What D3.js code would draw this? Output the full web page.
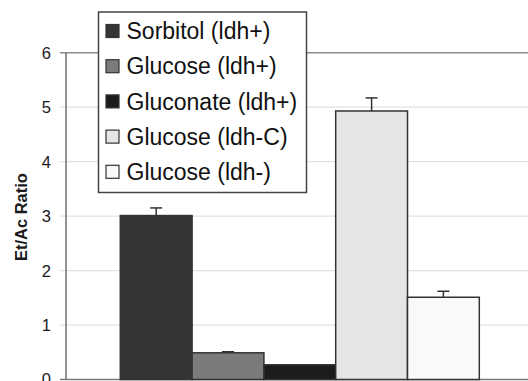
<!DOCTYPE html>
<html>
<head>
<meta charset="utf-8">
<script src="https://cdn.jsdelivr.net/npm/d3@7"></script>
<style>
  html, body { margin: 0; padding: 0; background: #fff; }
  svg { display: block; font-family: "Liberation Sans", Arial, Helvetica, sans-serif; }
</style>
</head>
<body>
<svg id="chart"></svg>
<script>
// data
const series = ["Sorbitol (ldh+)", "Glucose (ldh+)", "Gluconate (ldh+)", "Glucose (ldh-C)", "Glucose (ldh-)"]
const ratios = [3.01, 0.49, 0.27, 4.93, 1.51]
const errors = [0.14, 0.02, 0, 0.24, 0.11]
const fills = ["#353535", "#7b7b7b", "#1c1c1c", "#e5e5e5", "#f9f9f9"]
const yTicks = [0, 1, 2, 3, 4, 5, 6]

const width = 528, height = 381
const plot = { left: 66, top: 52.7, bottom: 379.5, right: 540 }

const svg = d3.select("#chart")
    .attr("width", width)
    .attr("height", height)

const y = d3.scaleLinear().domain([0, 6]).range([plot.bottom, plot.top])
const x = d3.scaleBand().domain(series).range([120.3, 479.3]).paddingInner(0)
const color = d3.scaleOrdinal().domain(series).range(fills)

// gridlines + ticks
svg.append("g")
    .selectAll("line")
    .data(yTicks.filter(d => d > 0 && d < 6))
    .join("line")
    .attr("x1", 60).attr("x2", plot.right)
    .attr("y1", d => y(d)).attr("y2", d => y(d))
    .attr("stroke", "#e2e2e2")
    .attr("stroke-width", 1.2)

// tick labels
svg.append("g")
    .selectAll("text")
    .data(yTicks)
    .join("text")
    .attr("x", 51)
    .attr("y", d => y(d))
    .attr("dy", "0.36em")
    .attr("text-anchor", "end")
    .attr("font-size", 16.5)
    .attr("fill", "#1a1a1a")
    .text(d => d)

// plot border: top line, left axis, baseline
svg.append("line")
    .attr("x1", 60).attr("x2", plot.right)
    .attr("y1", y(6)).attr("y2", y(6))
    .attr("stroke", "#8a8a8a").attr("stroke-width", 1.6)
svg.append("line")
    .attr("x1", plot.left).attr("x2", plot.left)
    .attr("y1", y(6)).attr("y2", plot.bottom)
    .attr("stroke", "#7a7a7a").attr("stroke-width", 1.6)
svg.append("line")
    .attr("x1", 60).attr("x2", plot.right)
    .attr("y1", plot.bottom).attr("y2", plot.bottom)
    .attr("stroke", "#7a7a7a").attr("stroke-width", 1.6)

// bars
const bars = svg.append("g")
    .selectAll("g")
    .data(series.map((s, i) => ({ name: s, value: ratios[i], err: errors[i] })))
    .join("g")

bars.append("rect")
    .attr("x", d => x(d.name))
    .attr("width", x.bandwidth())
    .attr("y", d => y(d.value))
    .attr("height", d => y(0) - y(d.value))
    .attr("fill", d => color(d.name))
    .attr("stroke", "#333")
    .attr("stroke-width", 1.5)

// error bars (upper only)
const eb = bars.filter(d => d.err > 0)
eb.append("line")
    .attr("x1", d => x(d.name) + x.bandwidth() / 2)
    .attr("x2", d => x(d.name) + x.bandwidth() / 2)
    .attr("y1", d => y(d.value))
    .attr("y2", d => y(d.value + d.err))
    .attr("stroke", "#333").attr("stroke-width", 1.5)
eb.append("line")
    .attr("x1", d => x(d.name) + x.bandwidth() / 2 - 6)
    .attr("x2", d => x(d.name) + x.bandwidth() / 2 + 6)
    .attr("y1", d => y(d.value + d.err))
    .attr("y2", d => y(d.value + d.err))
    .attr("stroke", "#333").attr("stroke-width", 1.5)

// y axis title
svg.append("text")
    .attr("transform", `translate(27,${(y(6) + y(0)) / 2 + 1}) rotate(-90)`)
    .attr("text-anchor", "middle")
    .attr("font-size", 16.5)
    .attr("font-weight", "bold")
    .attr("fill", "#1a1a1a")
    .text("Et/Ac Ratio")

// legend
const legend = svg.append("g").attr("transform", "translate(98.5,12)")
legend.append("rect")
    .attr("width", 208)
    .attr("height", 180.5)
    .attr("fill", "#fff")
    .attr("stroke", "#444")
    .attr("stroke-width", 1.5)

const item = legend.selectAll("g.item")
    .data(series)
    .join("g")
    .attr("class", "item")
    .attr("transform", (d, i) => `translate(0,${19 + i * 35.2})`)

item.append("rect")
    .attr("x", 7.5).attr("y", -6.5)
    .attr("width", 13).attr("height", 13)
    .attr("fill", d => color(d))
    .attr("stroke", "#333")
    .attr("stroke-width", 1.2)

item.append("text")
    .attr("x", 28)
    .attr("dy", "0.36em")
    .attr("font-size", 23)
    .attr("fill", "#111")
    .text(d => d)
</script>
</body>
</html>
